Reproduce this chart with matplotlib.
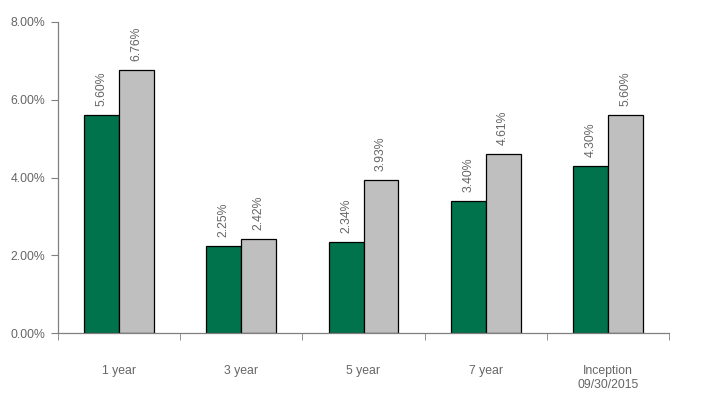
import matplotlib.pyplot as plt
import numpy as np
from matplotlib.ticker import FixedLocator, FuncFormatter

plt.rcParams['font.family'] = ['Liberation Sans', 'DejaVu Sans']

# data
categories = ['1 year', '3 year', '5 year', '7 year', 'Inception\n09/30/2015']
fund = [5.60, 2.25, 2.34, 3.40, 4.30]
bench = [6.76, 2.42, 3.93, 4.61, 5.60]

green = '#00734D'
grey = '#BFBFBF'
txt = '#666666'
fs = 8.8

fig = plt.figure(figsize=(7.01, 4.13), dpi=100)
ax = fig.add_axes([58 / 701, 80 / 413, 611 / 701, 311 / 413])

x = np.arange(len(categories))
w = 0.286
ax.bar(x - w / 2, fund, w, color=green, edgecolor='black', linewidth=0.9)
ax.bar(x + w / 2, bench, w, color=grey, edgecolor='black', linewidth=0.9)

# value labels, rotated
for i in range(len(categories)):
    ax.annotate('{:.2f}%'.format(fund[i]), (x[i] - w / 2, fund[i]), xytext=(0, 6.5),
                textcoords='offset points', rotation=90, ha='center', va='bottom',
                fontsize=fs, color=txt)
    ax.annotate('{:.2f}%'.format(bench[i]), (x[i] + w / 2, bench[i]), xytext=(0, 6.5),
                textcoords='offset points', rotation=90, ha='center', va='bottom',
                fontsize=fs, color=txt)

ax.set_xlim(-0.5, len(categories) - 0.5)
ax.set_ylim(0, 8)
ax.set_yticks([0, 2, 4, 6, 8])
ax.yaxis.set_major_formatter(FuncFormatter(lambda v, p: '{:.2f}%'.format(v)))

ax.set_xticks(x)
ax.set_xticklabels(categories)
ax.tick_params(axis='x', which='major', length=0, pad=23, labelsize=fs, labelcolor=txt)
ax.xaxis.set_minor_locator(FixedLocator(np.arange(-0.5, len(categories), 1.0)))
ax.tick_params(axis='x', which='minor', length=5, color='#808080', direction='out')
ax.tick_params(axis='y', length=5, color='#808080', labelsize=fs, labelcolor=txt, pad=4)

for s in ['top', 'right']:
    ax.spines[s].set_visible(False)
for s in ['left', 'bottom']:
    ax.spines[s].set_color('#808080')
    ax.spines[s].set_linewidth(0.9)

plt.savefig('out.png', dpi=100)
